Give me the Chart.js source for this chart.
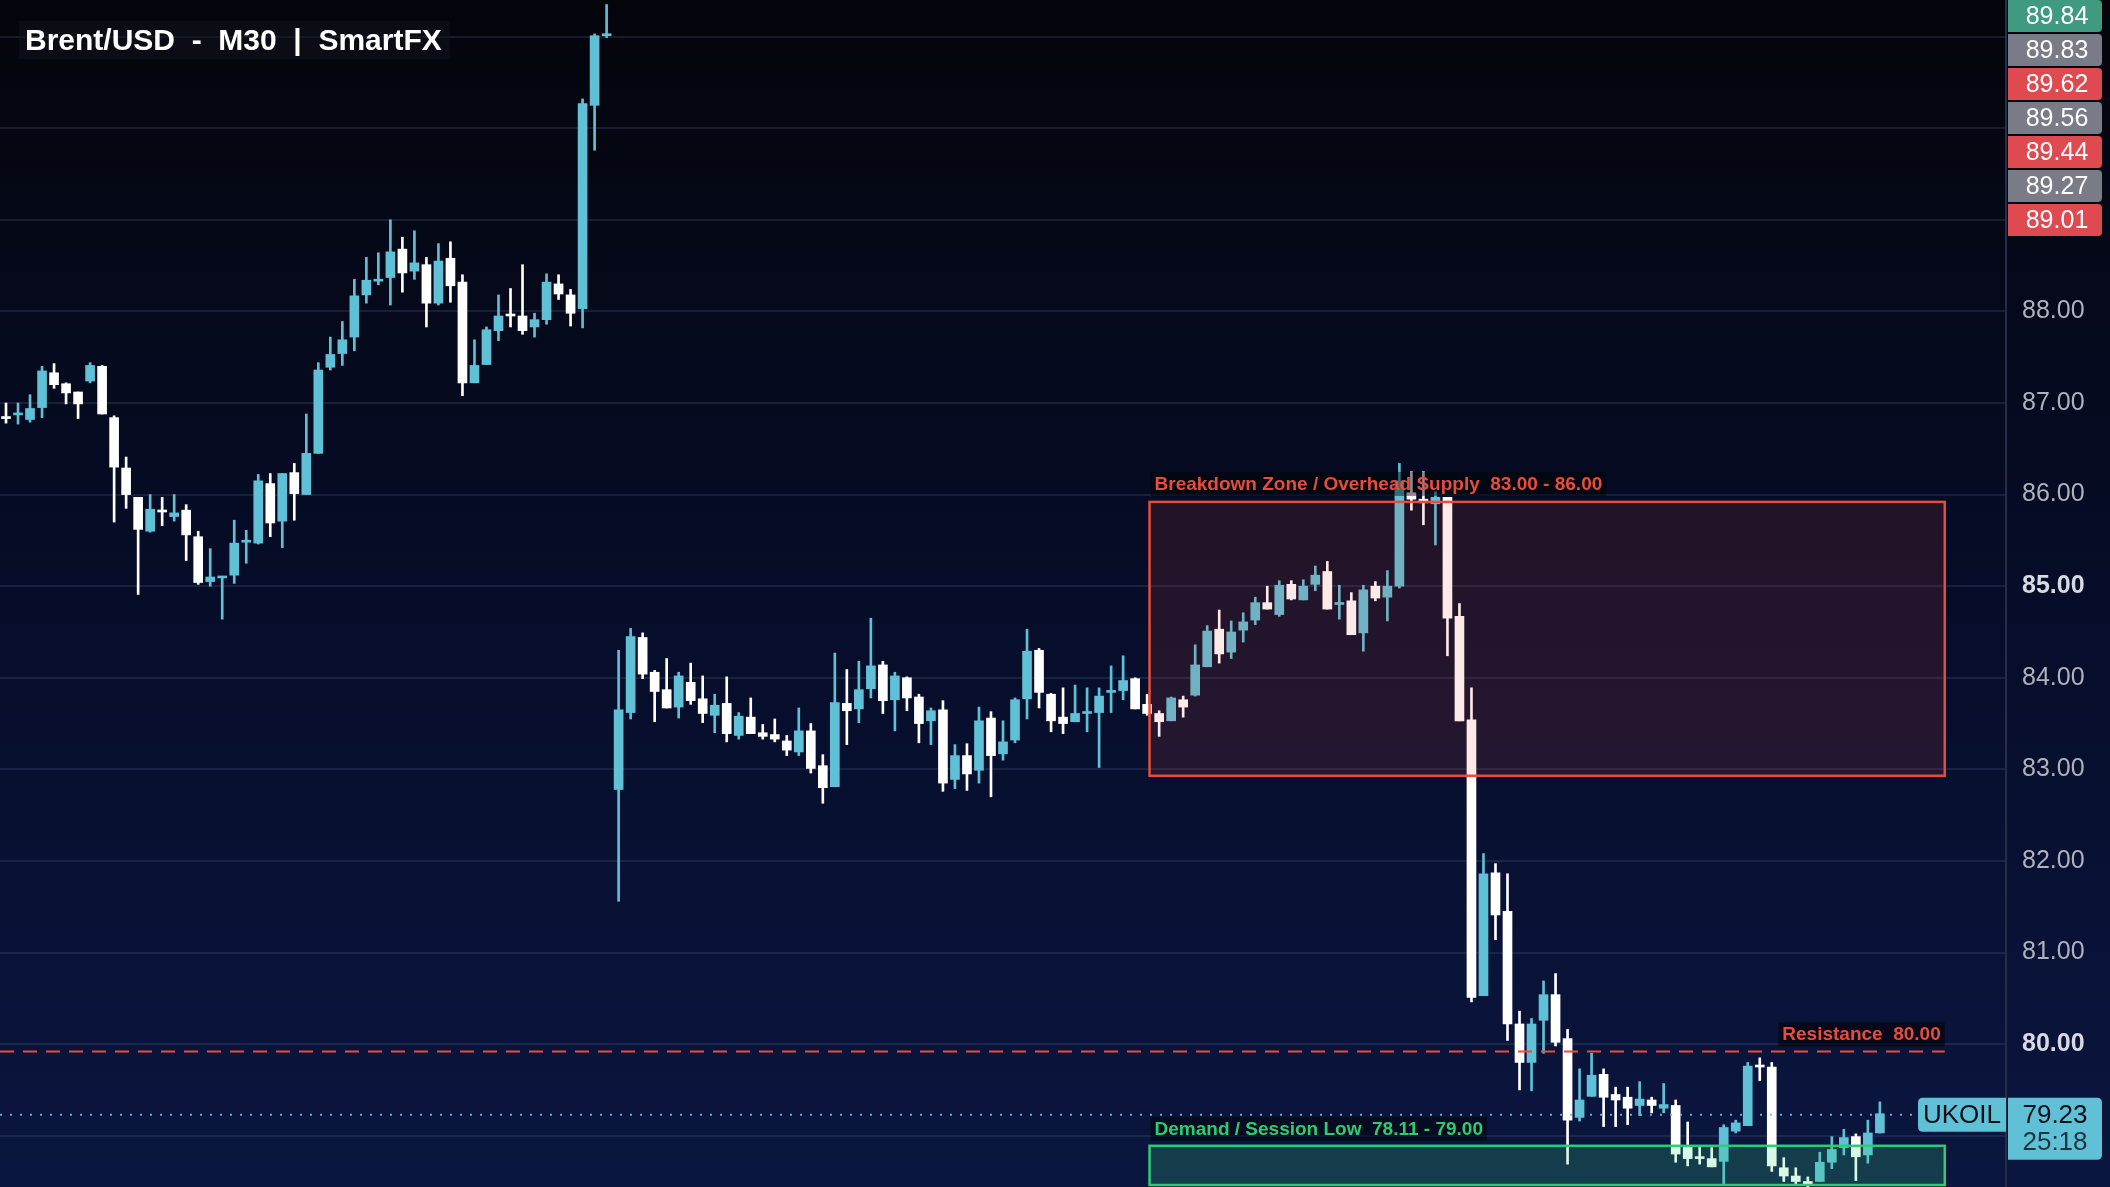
<!DOCTYPE html>
<html>
<head>
<meta charset="utf-8">
<script src="https://cdn.jsdelivr.net/npm/chart.js@4.4.1/dist/chart.umd.min.js"></script>
<style>
  html, body { margin: 0; padding: 0; background: #05070f; }
  #wrap { width: 2110px; height: 1187px; }
</style>
</head>
<body>
<div id="wrap"><canvas id="chart"></canvas></div>
<script>
const TITLE = 'Brent/USD  -  M30  |  SmartFX';

const opens = [
  86.85,86.87,86.82,86.95,87.33,87.21,87.12,87.24,87.40,86.84,
  86.29,85.97,85.60,85.83,85.76,85.83,85.54,85.05,85.09,85.12,
  85.48,85.47,86.12,85.71,86.24,86.00,86.45,87.39,87.54,87.72,
  88.18,88.33,88.37,88.68,88.44,88.51,88.09,88.58,88.32,87.22,
  87.42,87.79,87.96,87.95,87.83,87.91,88.30,88.18,88.03,90.25,
  91.01,82.78,83.62,84.44,84.06,83.87,83.68,83.95,83.77,83.59,
  83.72,83.37,83.57,83.40,83.38,83.31,83.19,83.42,83.04,82.81,
  83.72,83.66,83.88,84.14,83.76,84.00,83.79,83.53,83.65,82.89,
  83.15,82.99,83.56,83.17,83.32,83.77,84.30,83.82,83.57,83.52,
  83.61,83.62,83.84,83.86,83.99,83.71,83.61,83.53,83.76,83.81,
  84.12,84.53,84.28,84.52,84.63,84.82,84.69,85.02,84.85,85.02,
  85.16,84.80,84.84,84.49,85.00,84.88,85.00,86.02,85.95,85.90,
  85.97,84.67,83.54,80.53,81.87,81.45,80.22,79.80,80.26,80.54,
  80.06,79.20,79.43,79.67,79.45,79.42,79.33,79.39,79.30,79.33,
  78.88,78.76,78.75,78.72,79.05,79.11,79.77,79.75,78.65,78.56,
  78.50,78.50,78.71,78.87,78.99,78.79,79.03
];
const closes = [
  86.83,86.88,86.94,87.35,87.20,87.11,86.99,87.41,86.88,86.30,
  86.00,85.62,85.84,85.81,85.80,85.56,85.04,85.10,85.10,85.47,
  85.50,86.15,85.69,86.23,86.01,86.45,87.36,87.53,87.69,88.17,
  88.34,88.35,88.65,88.42,88.53,88.09,88.55,88.28,87.22,87.41,
  87.80,87.95,87.95,87.79,87.91,88.32,88.19,87.98,90.27,91.01,
  91.02,83.65,84.45,84.04,83.85,83.67,84.02,83.75,83.61,83.70,
  83.39,83.58,83.39,83.36,83.33,83.21,83.42,83.01,82.80,83.73,
  83.64,83.87,84.13,83.75,84.02,83.78,83.50,83.64,82.85,83.15,
  82.95,83.53,83.15,83.30,83.76,84.29,83.84,83.53,83.50,83.61,
  83.62,83.80,83.86,83.97,83.66,83.61,83.52,83.78,83.68,84.14,
  84.51,84.26,84.50,84.61,84.82,84.75,85.01,84.86,85.00,85.12,
  84.75,84.82,84.47,84.96,84.87,85.00,86.15,85.95,85.91,85.97,
  84.65,83.53,80.51,81.86,81.41,80.22,79.80,80.22,80.54,80.02,
  79.17,79.39,79.66,79.42,79.39,79.30,79.40,79.33,79.34,78.80,
  78.75,78.75,78.66,79.09,79.14,79.76,79.75,78.67,78.56,78.50,
  78.47,78.71,78.85,78.98,78.77,79.03,79.24
];
const highs = [
  87.00,87.00,87.09,87.40,87.43,87.22,87.12,87.44,87.41,86.86,
  86.41,85.97,86.00,85.97,86.00,85.89,85.60,85.41,85.10,85.72,
  85.61,86.22,86.23,86.23,86.34,86.88,87.44,87.72,87.89,88.35,
  88.59,88.64,89.00,88.81,88.88,88.59,88.74,88.76,88.40,87.69,
  87.83,88.18,88.25,88.51,87.98,88.41,88.40,88.24,90.32,91.03,
  91.35,84.30,84.54,84.49,84.08,84.21,84.06,84.16,84.02,83.82,
  84.01,83.62,83.78,83.49,83.55,83.37,83.67,83.50,83.16,84.27,
  84.09,84.18,84.65,84.18,84.06,84.01,83.82,83.67,83.75,83.27,
  83.28,83.68,83.63,83.53,83.78,84.53,84.32,83.83,83.89,83.92,
  83.89,83.89,84.13,84.24,84.00,83.82,83.64,83.79,83.80,84.36,
  84.57,84.74,84.62,84.71,84.88,85.00,85.06,85.06,85.07,85.22,
  85.27,85.01,84.93,85.01,85.05,85.17,86.34,86.25,86.25,86.03,
  85.97,84.81,83.89,82.08,81.97,81.86,80.36,80.28,80.69,80.77,
  80.16,79.73,79.90,79.73,79.53,79.53,79.59,79.42,79.57,79.39,
  79.15,78.89,78.87,79.12,79.17,79.80,79.85,79.80,78.76,78.65,
  78.55,78.82,78.99,79.07,79.02,79.17,79.37
];
const lows = [
  86.78,86.77,86.79,86.84,87.16,86.99,86.83,87.22,86.88,85.70,
  85.85,84.91,85.59,85.66,85.71,85.28,85.02,85.00,84.64,85.03,
  85.25,85.46,85.54,85.42,85.72,86.00,86.45,87.36,87.41,87.57,
  88.09,88.29,88.07,88.21,88.35,87.83,88.07,88.10,87.08,87.22,
  87.42,87.68,87.83,87.75,87.72,87.86,88.13,87.84,87.82,89.76,
  90.99,81.56,83.55,83.99,83.52,83.67,83.56,83.71,83.51,83.40,
  83.30,83.33,83.39,83.33,83.30,83.15,83.15,82.96,82.63,82.81,
  83.27,83.51,83.78,83.61,83.42,83.64,83.29,83.27,82.76,82.79,
  82.77,82.85,82.70,83.10,83.29,83.55,83.67,83.41,83.39,83.52,
  83.41,83.02,83.62,83.76,83.66,83.59,83.36,83.53,83.57,83.80,
  84.12,84.16,84.21,84.39,84.58,84.75,84.67,84.85,84.85,84.95,
  84.75,84.64,84.47,84.29,84.84,84.62,84.98,85.83,85.67,85.45,
  84.24,83.53,80.46,80.53,81.14,80.04,79.50,79.49,79.90,79.98,
  78.69,79.16,79.43,79.10,79.10,79.12,79.22,79.25,79.25,78.71,
  78.67,78.69,78.66,78.47,79.03,79.11,79.60,78.61,78.50,78.46,
  78.44,78.50,78.64,78.79,78.51,78.70,79.03
];

// recent price badges on the axis (top right)
const badgeValues = ['89.84', '89.83', '89.62', '89.56', '89.44', '89.27', '89.01'];
const badgeColors = ['#3f9a80', '#797b86', '#df4a50', '#797b86', '#df4a50', '#797b86', '#df4a50'];

// zones as drawn on the picture (drawn edges sit a touch under the labelled levels)
const supplyZone = { from: 82.93, to: 85.92, startIdx: 95.2, endIdx: 161.4, label: 'Breakdown Zone / Overhead Supply  83.00 - 86.00' };
const demandZone = { from: 78.11, to: 78.89, startIdx: 95.2, endIdx: 161.4, label: 'Demand / Session Low  78.11 - 79.00' };
const resistance = { level: 79.92, endIdx: 161.4, label: 'Resistance  80.00' };
const lastPrice = 79.23;
const lastPriceText = '79.23';
const countdown = '25:18';
const symbol = 'UKOIL';

const Y_MIN = 78.44, Y_MAX = 91.40;
const TOTAL_SLOTS = 167;

const UP = '#5fc0d6';
const DOWN = '#ffffff';

const labels = [];
for (let i = 0; i < TOTAL_SLOTS; i++) labels.push(i);
const wickData = highs.map((h, i) => [lows[i], h]);
const bodyData = opens.map((o, i) => [Math.min(o, closes[i]), Math.max(o, closes[i])]);
const candleColor = ctx => {
    const i = ctx.dataIndex;
    return closes[i] >= opens[i] ? UP : DOWN;
};

const bgPlugin = {
    id: 'bg',
    beforeDraw(chart) {
        const { ctx, width, height } = chart;
        const g = ctx.createLinearGradient(0, 0, 0, height);
        g.addColorStop(0, '#04050b');
        g.addColorStop(0.45, '#060c26');
        g.addColorStop(1, '#0b1640');
        ctx.save();
        ctx.fillStyle = g;
        ctx.fillRect(0, 0, width, height);
        ctx.restore();
    }
};

const LABEL_FONT = 'bold 19px "Liberation Sans", Arial, sans-serif';

function tagText(ctx, text, x, y, color, bg) {
    ctx.font = LABEL_FONT;
    const w = ctx.measureText(text).width;
    ctx.fillStyle = bg;
    ctx.fillRect(x - 4, y - 18, w + 8, 24);
    ctx.fillStyle = color;
    ctx.textBaseline = 'alphabetic';
    ctx.textAlign = 'left';
    ctx.fillText(text, x, y);
}

function roundRect(ctx, x, y, w, h, r) {
    ctx.beginPath();
    ctx.moveTo(x, y);
    ctx.lineTo(x + w - r, y);
    ctx.quadraticCurveTo(x + w, y, x + w, y + r);
    ctx.lineTo(x + w, y + h - r);
    ctx.quadraticCurveTo(x + w, y + h, x + w - r, y + h);
    ctx.lineTo(x, y + h);
    ctx.closePath();
}

const overlayPlugin = {
    id: 'overlay',
    afterDatasetsDraw(chart) {
        const { ctx, scales: { x, y }, chartArea } = chart;
        const slot = x.getPixelForValue(1) - x.getPixelForValue(0);
        const idxPx = v => x.getPixelForValue(0) + v * slot;
        ctx.save();

        // supply zone
        let x0 = idxPx(supplyZone.startIdx), x1 = idxPx(supplyZone.endIdx);
        let yt = y.getPixelForValue(supplyZone.to), yb = y.getPixelForValue(supplyZone.from);
        ctx.fillStyle = 'rgba(235, 70, 60, 0.12)';
        ctx.fillRect(x0, yt, x1 - x0, yb - yt);
        ctx.strokeStyle = '#e74c3c';
        ctx.lineWidth = 2.5;
        ctx.strokeRect(x0, yt, x1 - x0, yb - yt);
        tagText(ctx, supplyZone.label, x0 + 5, yt - 12, '#e74c3c', 'rgba(0,0,0,0.45)');

        // demand zone
        x0 = idxPx(demandZone.startIdx); x1 = idxPx(demandZone.endIdx);
        yt = y.getPixelForValue(demandZone.to);
        yb = Math.min(y.getPixelForValue(demandZone.from), chartArea.bottom - 2);
        ctx.fillStyle = 'rgba(60, 220, 130, 0.2)';
        ctx.fillRect(x0, yt, x1 - x0, yb - yt);
        ctx.strokeStyle = '#2ecc71';
        ctx.lineWidth = 2.5;
        ctx.strokeRect(x0, yt, x1 - x0, yb - yt);
        tagText(ctx, demandZone.label, x0 + 5, yt - 11, '#2ecc71', 'rgba(0,0,0,0.45)');

        // resistance
        const ry = y.getPixelForValue(resistance.level);
        const rx1 = idxPx(resistance.endIdx);
        ctx.strokeStyle = '#e74c3c';
        ctx.lineWidth = 2;
        ctx.setLineDash([14, 9]);
        ctx.beginPath();
        ctx.moveTo(0, ry);
        ctx.lineTo(rx1, ry);
        ctx.stroke();
        ctx.setLineDash([]);
        ctx.font = LABEL_FONT;
        const rw = ctx.measureText(resistance.label).width;
        tagText(ctx, resistance.label, rx1 - rw - 4, ry - 11, '#e74c3c', 'rgba(0,0,0,0.55)');

        // last price dotted line
        const py = y.getPixelForValue(lastPrice);
        ctx.strokeStyle = 'rgba(95,192,214,0.9)';
        ctx.lineWidth = 2;
        ctx.setLineDash([2, 8]);
        ctx.beginPath();
        ctx.moveTo(0, py);
        ctx.lineTo(chartArea.right - 88, py);
        ctx.stroke();
        ctx.setLineDash([]);
        ctx.restore();
    },
    afterDraw(chart) {
        const { ctx, scales: { y }, chartArea } = chart;
        const ax = chartArea.right + 2;
        ctx.save();
        // title
        ctx.font = 'bold 30px "Liberation Sans", Arial, sans-serif';
        const tw = ctx.measureText(TITLE).width;
        ctx.fillStyle = 'rgba(20,22,32,0.45)';
        ctx.fillRect(19, 21, tw + 14, 38);
        ctx.fillStyle = '#ffffff';
        ctx.textAlign = 'left';
        ctx.textBaseline = 'alphabetic';
        ctx.fillText(TITLE, 25, 50);

        // badges
        ctx.font = '25px "Liberation Sans", Arial, sans-serif';
        badgeValues.forEach((v, i) => {
            const by = i * 34;
            ctx.fillStyle = badgeColors[i];
            roundRect(ctx, ax, by, 94, 32, 4);
            ctx.fill();
            ctx.fillStyle = '#ffffff';
            ctx.textAlign = 'center';
            ctx.textBaseline = 'middle';
            ctx.fillText(v, ax + 49, by + 17);
        });

        // symbol + last price badge
        const py = y.getPixelForValue(lastPrice);
        const lx = chartArea.right - 88;
        ctx.fillStyle = UP;
        roundRect(ctx, ax, py - 17, 94, 62, 5);
        ctx.fill();
        ctx.beginPath();
        ctx.moveTo(lx + 5, py - 17);
        ctx.lineTo(chartArea.right, py - 17);
        ctx.lineTo(chartArea.right, py + 17);
        ctx.lineTo(lx + 5, py + 17);
        ctx.quadraticCurveTo(lx, py + 17, lx, py + 12);
        ctx.lineTo(lx, py - 12);
        ctx.quadraticCurveTo(lx, py - 17, lx + 5, py - 17);
        ctx.fill();
        ctx.fillStyle = '#0a0f1a';
        ctx.textAlign = 'center';
        ctx.textBaseline = 'middle';
        ctx.font = '26px "Liberation Sans", Arial, sans-serif';
        ctx.fillText(symbol, chartArea.right - 44, py + 1);
        ctx.fillText(lastPriceText, ax + 47, py + 1);
        ctx.fillStyle = '#1c3540';
        ctx.fillText(countdown, ax + 47, py + 28);
        ctx.restore();
    }
};

new Chart(document.getElementById('chart'), {
    type: 'bar',
    data: {
        labels,
        datasets: [
            { data: wickData, backgroundColor: candleColor, barThickness: 2, grouped: false, order: 2 },
            { data: bodyData, backgroundColor: candleColor, barThickness: 9, minBarLength: 2, grouped: false, order: 1 }
        ]
    },
    options: {
        responsive: true,
        maintainAspectRatio: false,
        animation: false,
        layout: { padding: 0 },
        plugins: { legend: { display: false }, tooltip: { enabled: false } },
        scales: {
            x: { display: false, offset: true },
            y: {
                position: 'right',
                min: Y_MIN,
                max: Y_MAX,
                afterFit(axis) {
                    axis.width = 104;
                    axis.paddingTop = 0;
                    axis.paddingBottom = 0;
                },
                afterBuildTicks(axis) {
                    const t = [];
                    for (let v = 79; v <= 91; v++) t.push({ value: v });
                    axis.ticks = t;
                },
                grid: { color: 'rgba(60,72,105,0.35)', lineWidth: 2, drawTicks: false },
                border: { color: '#262d48', width: 2 },
                ticks: {
                    padding: 16,
                    color: ctx => (ctx.tick.value === 85 || ctx.tick.value === 80) ? '#d8dae2' : '#aeb2bd',
                    font: ctx => ({
                        family: '"Liberation Sans", Arial, sans-serif',
                        size: 25,
                        weight: (ctx.tick && (ctx.tick.value === 85 || ctx.tick.value === 80)) ? 'bold' : 'normal'
                    }),
                    callback: v => v >= 89 ? '' : v.toFixed(2)
                }
            }
        }
    },
    plugins: [bgPlugin, overlayPlugin]
});
</script>
</body>
</html>
